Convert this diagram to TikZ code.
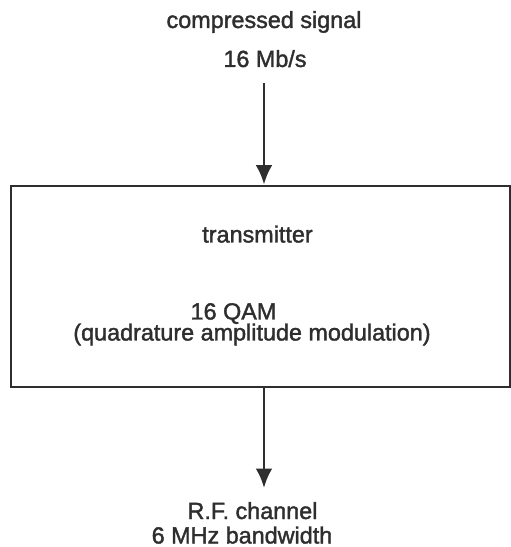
\documentclass[tikz,border=0pt]{standalone}
\usepackage{fontspec}
\setmainfont{Liberation Sans}
\newfontfamily\lblfont{Liberation Sans}[FakeBold=1.6]
\usetikzlibrary{arrows.meta}
\definecolor{ink}{HTML}{2E2E2E}
\begin{document}
\begin{tikzpicture}[
    lbl/.style={anchor=base,inner sep=0pt,text=ink,font=\lblfont\fontsize{13.3}{16}\selectfont},
    blk/.style={draw=ink,line width=1.1pt,rectangle,inner sep=0pt,minimum width=9.98cm,minimum height=4.03cm},
    flow/.style={draw=ink,line width=1.7pt,-{Latex[length=11pt,width=9.5pt]}}]
    \useasboundingbox (0,0) rectangle (10.22,10.94);
    \node[blk] (tx) at (5.21,5.214) {};
    \node[lbl] (sig) at (5.28,10.38) {compressed signal};
    \node[lbl] (rate) at (5.30,9.60) {16 Mb/s};
    \node[lbl] (name) at (5.15,6.09) {transmitter};
    \node[lbl] (mod) at (4.67,4.55) {16 QAM};
    \node[lbl] (modlong) at (5.04,4.13) {(quadrature amplitude modulation)};
    \node[lbl] (rf) at (5.05,0.56) {R.F. channel};
    \node[lbl] (bw) at (4.84,0.07) {6 MHz bandwidth};
    \coordinate (in) at (5.28,9.28);
    \coordinate (out) at (5.28,1.18);
    \draw[flow] (in) -- (in |- tx.north);
    \draw[flow] (out |- tx.south) -- (out);
\end{tikzpicture}
\end{document}
